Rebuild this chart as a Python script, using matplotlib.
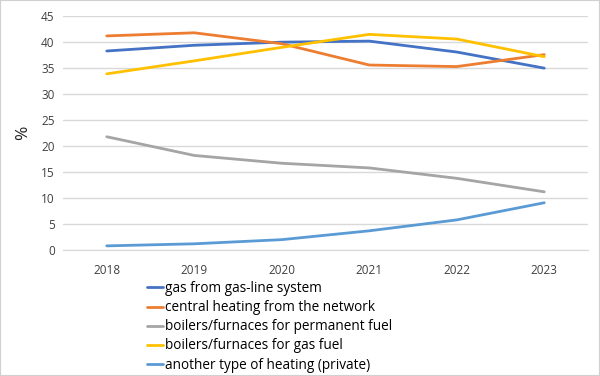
import matplotlib
matplotlib.use("Agg")
import matplotlib.pyplot as plt

years = ["2018", "2019", "2020", "2021", "2022", "2023"]
gas_line = [38.3, 39.4, 40.0, 40.2, 38.1, 35.0]
central = [41.2, 41.8, 39.7, 35.6, 35.3, 37.6]
permanent = [21.8, 18.2, 16.7, 15.8, 13.8, 11.2]
gas_fuel = [33.9, 36.4, 39.0, 41.5, 40.6, 37.2]
other = [0.8, 1.2, 2.0, 3.7, 5.8, 9.1]

labels = ["gas from gas-line system", "central heating from the network",
          "boilers/furnaces for permanent fuel", "boilers/furnaces for gas fuel",
          "another type of heating (private)"]
colors = ["#4472C4", "#ED7D31", "#A5A5A5", "#FFC000", "#5B9BD5"]

plt.rcParams['font.family'] = ['Open Sans', 'DejaVu Sans']

fig = plt.figure(figsize=(6, 3.76), dpi=100)
ax = fig.add_axes([0.105, 0.335, 0.875, 0.622])

x = range(len(years))
for vals, lab, c in zip([gas_line, central, permanent, gas_fuel, other], labels, colors):
    ax.plot(x, vals, color=c, lw=2, label=lab, solid_capstyle='round')

ax.set_xlim(-0.5, len(years) - 0.5)
ax.set_ylim(0, 45)
ax.set_yticks(range(0, 46, 5))
ax.set_xticks(list(x))
ax.set_xticklabels(years)
ax.grid(axis='y', color='#D9D9D9', lw=1)
ax.set_axisbelow(True)
for s in ['top', 'right', 'left']:
    ax.spines[s].set_visible(False)
ax.spines['bottom'].set_color('#D9D9D9')
ax.tick_params(length=0, labelsize=8.5, colors='#404040', pad=6)
ax.tick_params(axis='x', pad=10)
ax.set_ylabel('%', fontsize=12.5, color='#222222', labelpad=7)

handles, labs = ax.get_legend_handles_labels()
fig.legend(handles, labs, loc='upper left', bbox_to_anchor=(0.245, 0.252),
           frameon=False, fontsize=9.8, handlelength=1.2, handletextpad=0.15,
           labelspacing=0.3, borderaxespad=0, borderpad=0)

fig.patches.append(plt.Rectangle((0, 0), 1, 1, transform=fig.transFigure,
                                 fill=False, edgecolor='#D0D0D0', lw=1.5))
fig.savefig("out.png", dpi=100)
